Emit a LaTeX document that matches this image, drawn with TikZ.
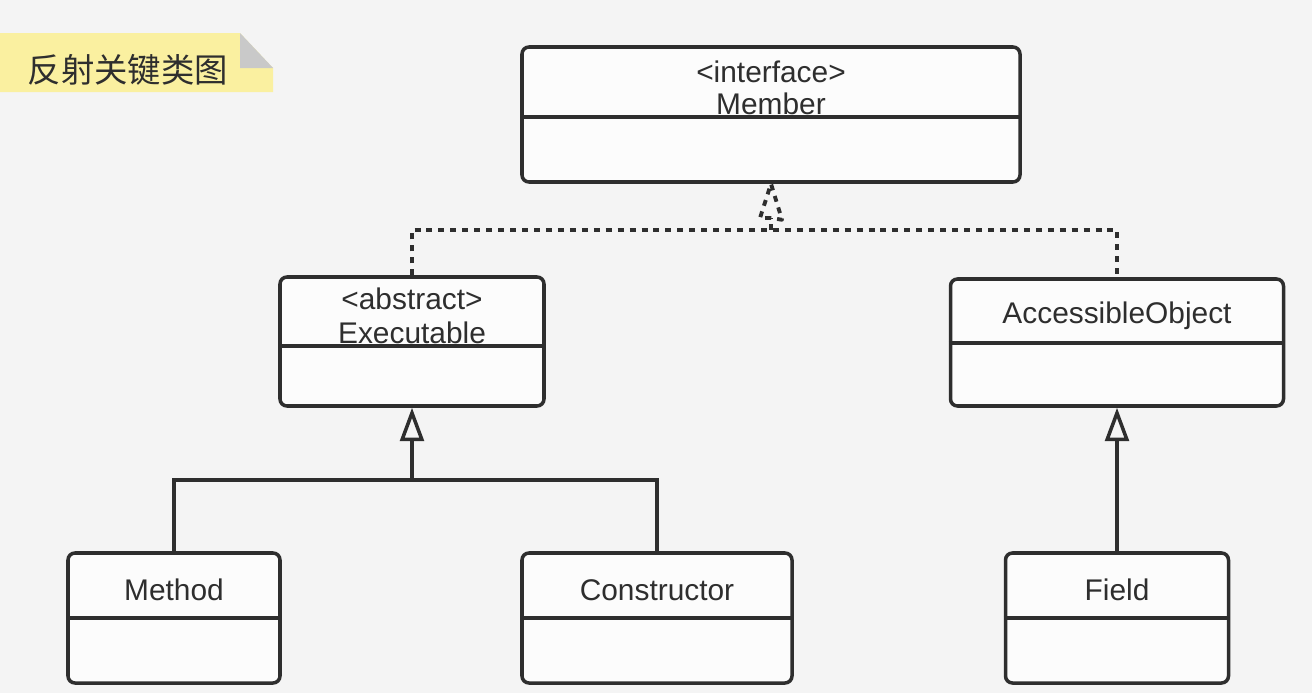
\documentclass[tikz,border=0pt]{standalone}
\usepackage{fontspec}
\setmainfont{Liberation Sans}
\newfontfamily\cjk{Noto Sans CJK SC}
\usetikzlibrary{arrows.meta}
\definecolor{bgcol}{HTML}{F4F4F4}
\definecolor{boxcol}{HTML}{FCFCFC}
\definecolor{linecol}{HTML}{2E2E2E}
\definecolor{textcol}{HTML}{2E2E2E}
\definecolor{notecol}{HTML}{FAF0A0}
\definecolor{foldcol}{HTML}{C9C9C9}

\begin{document}
\begin{tikzpicture}[x=0.02cm,y=-0.02cm]
  \tikzstyle{classbox}=[draw=linecol,fill=boxcol,rounded corners=4pt,line width=2pt,inner sep=0pt]
  \tikzstyle{classtext}=[font=\fontsize{17}{20}\selectfont,text=textcol,inner sep=0pt]
  \tikzstyle{inherit}=[draw=linecol,line width=2pt,-{Triangle[open,length=19pt,width=13.5pt]}]
  \tikzstyle{realize}=[draw=linecol,line width=2.2pt,dash pattern=on 3.4pt off 3.4pt,line join=round]

  % background and page size
  \fill[bgcol] (0,0) rectangle (1312,693);
  \useasboundingbox (0,0) rectangle (1312,693);

  % sticky note
  \fill[notecol] (0,33) -- (240,33) -- (273,68) -- (273,92) -- (0,92) -- cycle;
  \fill[foldcol] (240,33) -- (273,68) -- (240,68) -- cycle;
  \node[text=textcol,inner sep=0pt,font=\cjk\fontsize{19}{22}\selectfont] (title) at (128,70) {反射关键类图};

  % class boxes
  \foreach \name/\x/\y/\w/\h/\d in {member/771/114.5/498/135/117, exec/412/341.5/264/129/346,
      access/1117/342.5/333/127/343, method/174/618/212/130/618,
      ctor/657/618/270/130/618, field/1117/618/223/130/618}
  {
    \node[classbox,minimum width=\w*0.02cm,minimum height=\h*0.02cm] (\name) at (\x,\y) {};
    \draw[draw=linecol,line width=2pt] (\name.west |- 0,\d) -- (\name.east |- 0,\d);
  }

  % class names
  \foreach \name/\x/\y/\text in {member-s/771/72/<interface>, member-t/771/104/Member,
      exec-s/412/299/<abstract>, exec-t/412/333/Executable, access-t/1117/316/AccessibleObject,
      method-t/174/590/Method, ctor-t/657/590/Constructor, field-t/1117/590/Field}
    \node[classtext] (\name) at (\x,\y) {\text};

  % implements Member
  \coordinate (jtop) at (771,230);
  \coordinate (mbase) at (771,218);
  \draw[realize] (exec.north) |- (jtop) -| (access.north);
  \draw[realize] (jtop) -- (mbase);
  \draw[realize] (mbase) -- ++(-11,0) -- (member.south) -- ++(11,36) -- cycle;

  % extends
  \coordinate (jexec) at (412,480);
  \draw[draw=linecol,line width=2pt] (method.north) |- (jexec) -| (ctor.north);
  \draw[inherit] (jexec) -- (exec.south);
  \draw[inherit] (field.north) -- (access.south);

\end{tikzpicture}
\end{document}
